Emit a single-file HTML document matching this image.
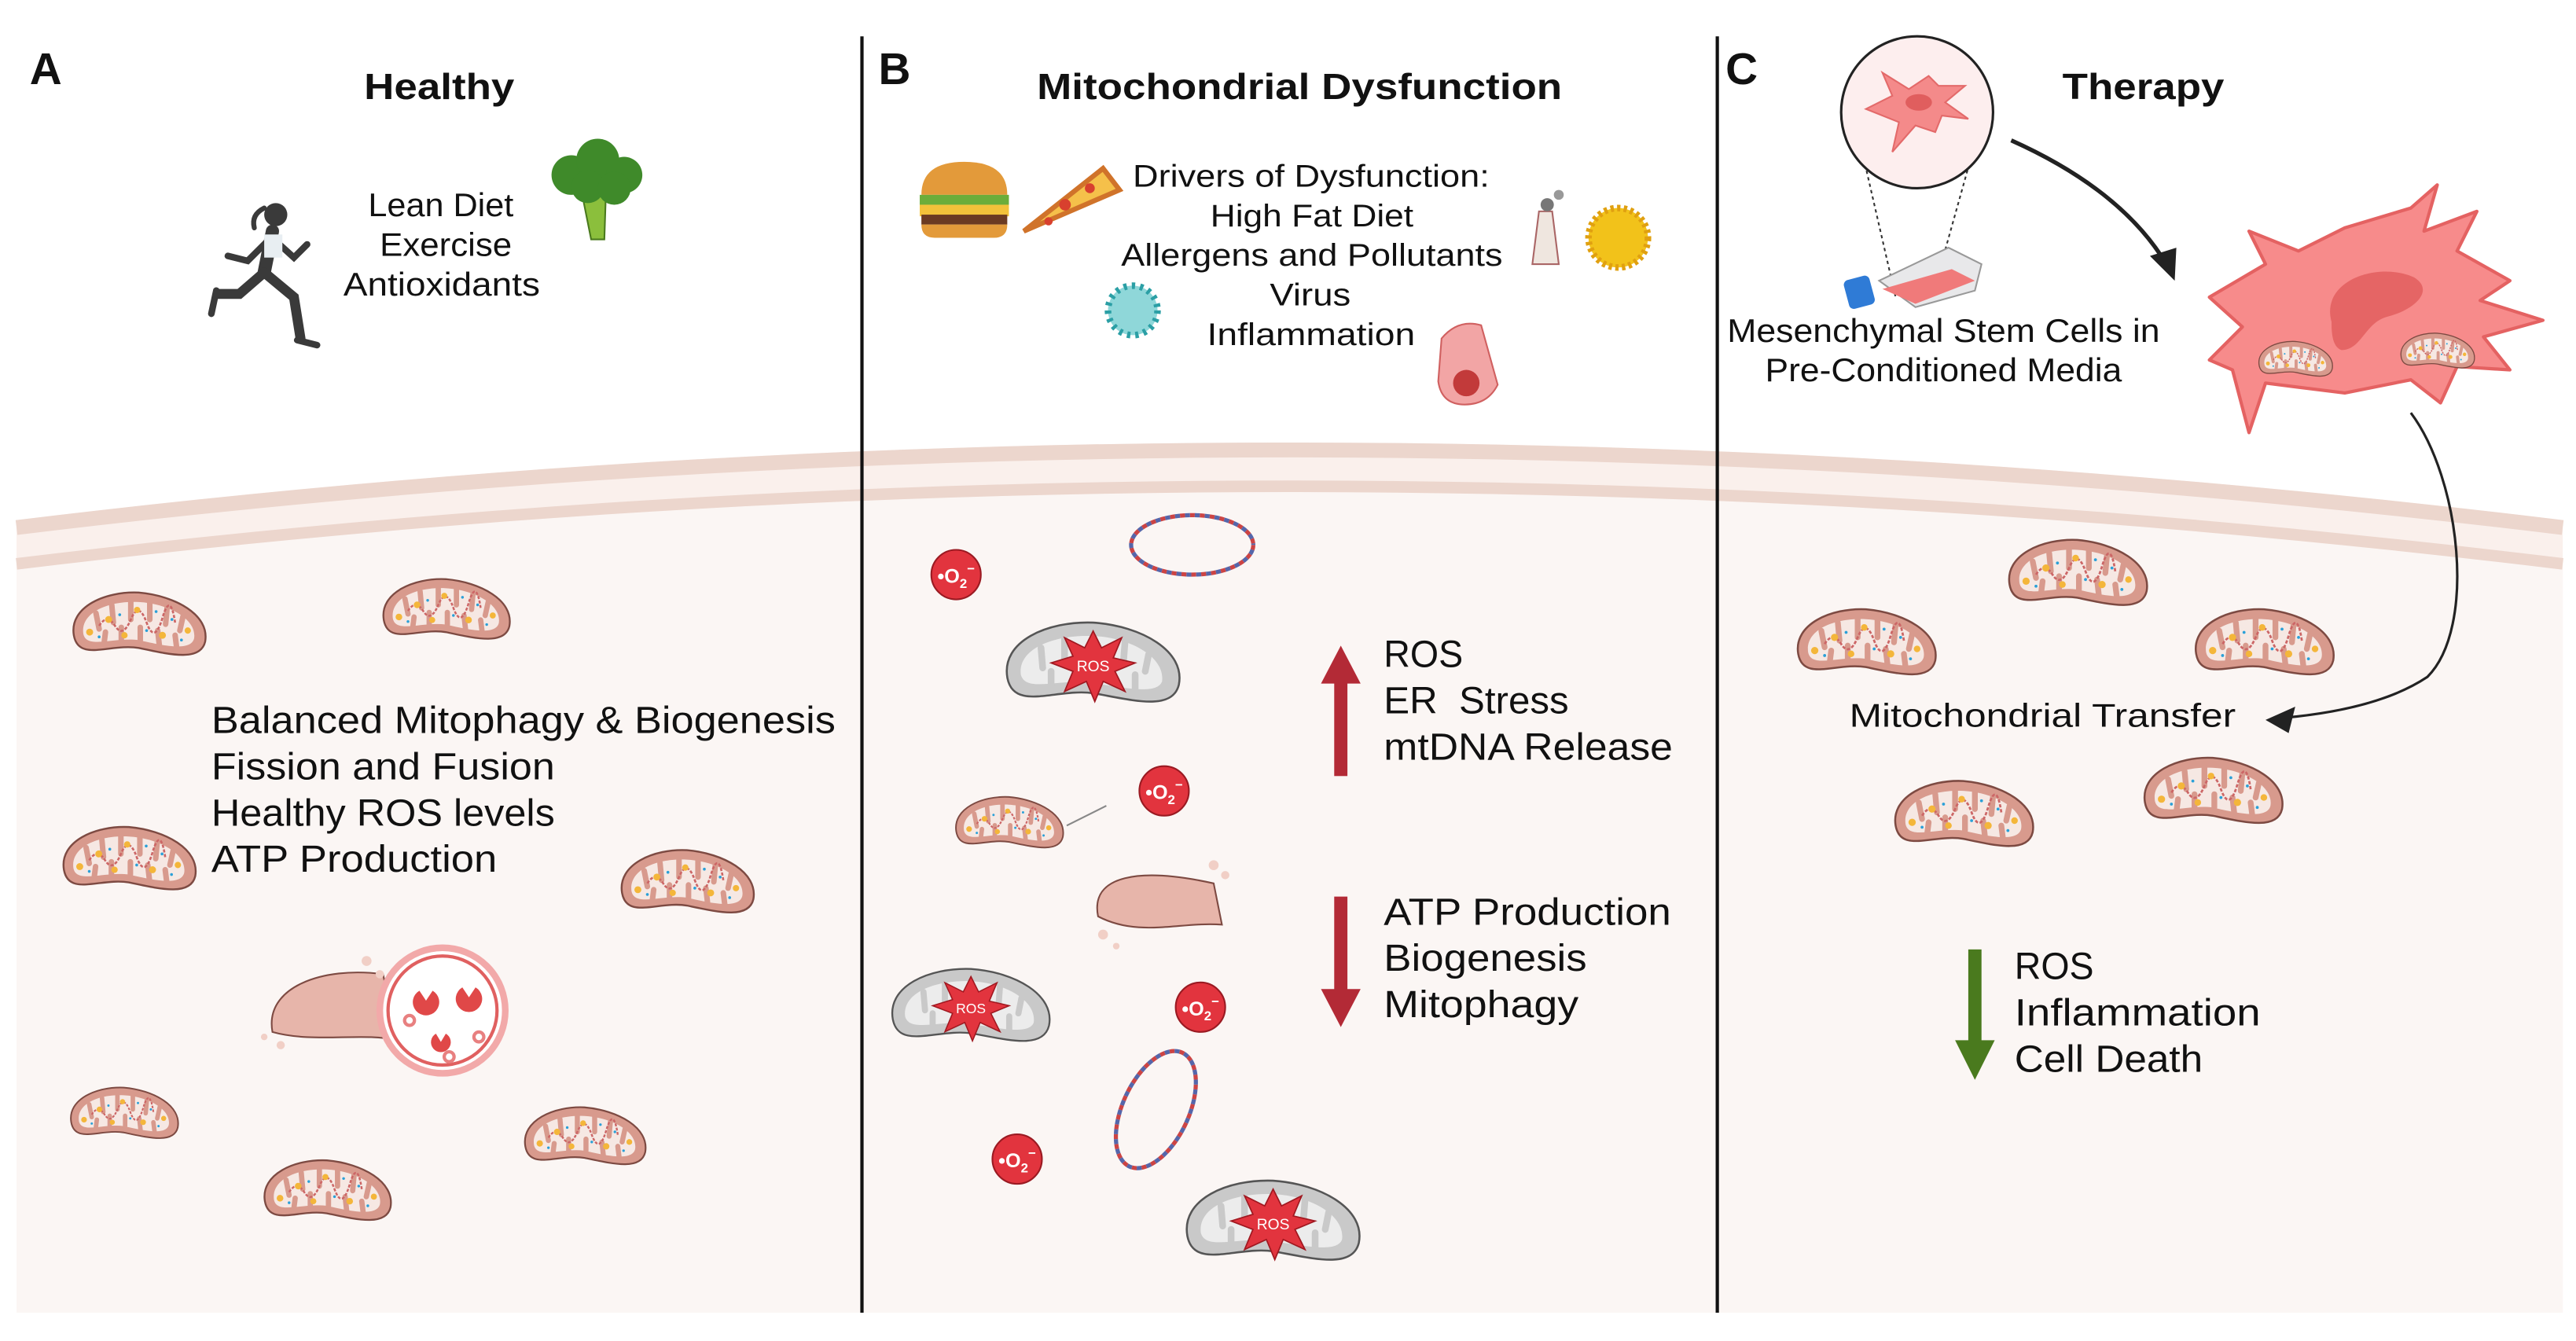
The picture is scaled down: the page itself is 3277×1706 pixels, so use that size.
<!DOCTYPE html>
<html><head><meta charset="utf-8"><style>
html,body{margin:0;padding:0;background:#fff;width:3277px;height:1695px;overflow:hidden}
#w{position:absolute;left:0;top:0;width:1560px;height:807px;transform:scale(2.1006);transform-origin:0 0}
text{font-family:"Liberation Sans",sans-serif;fill:#111}
</style></head><body><div id="w">
<svg width="1560" height="807" viewBox="0 0 1560 807" xmlns="http://www.w3.org/2000/svg">
<defs>
<symbol id="m" viewBox="0 0 90 48">
<path d="M4,30 C1,12 24,2 45,3 C68,5 90,17 87,34 C84,47 64,42 45,38 C27,35 7,47 4,30Z" fill="#d89a8d" stroke="#7d4a42" stroke-width="1.2"/>
<path d="M10,29 C8,15 27,8 45,9 C64,10 82,20 80,32 C78,40 62,37 45,33 C29,31 12,39 10,29Z" fill="#f6e8e3"/>
<g stroke="#d89a8d" stroke-width="3.5" stroke-linecap="round">
<line x1="18" y1="16" x2="20" y2="26"/><line x1="28" y1="11" x2="29" y2="22"/><line x1="40" y1="9" x2="40" y2="20"/><line x1="52" y1="9" x2="52" y2="20"/><line x1="63" y1="12" x2="62" y2="23"/><line x1="73" y1="18" x2="71" y2="27"/>
<line x1="23" y1="36" x2="24" y2="28"/><line x1="34" y1="33" x2="34" y2="25"/><line x1="46" y1="33" x2="46" y2="25"/><line x1="58" y1="36" x2="57" y2="27"/><line x1="69" y1="38" x2="68" y2="30"/>
</g>
<path d="M20,24 q5,-8 10,0 t10,-4 t10,2 t10,-3 t8,3" fill="none" stroke="#c66" stroke-width="1.3" stroke-dasharray="2 1"/>
<g fill="#f4b63a"><circle cx="14" cy="28" r="2.2"/><circle cx="26" cy="20" r="2.2"/><circle cx="44" cy="14" r="2"/><circle cx="60" cy="30" r="2.2"/><circle cx="76" cy="27" r="2"/><circle cx="36" cy="30" r="2"/></g>
<g fill="#2aa0d8"><circle cx="20" cy="31" r="0.9"/><circle cx="33" cy="17" r="0.9"/><circle cx="50" cy="27" r="0.9"/><circle cx="66" cy="20" r="0.9"/><circle cx="72" cy="33" r="0.9"/><circle cx="56" cy="15" r="0.9"/></g>
</symbol>
<symbol id="g" viewBox="0 0 110 56">
<path d="M4,36 C0,14 28,2 55,3 C84,5 110,20 106,40 C102,56 78,49 55,45 C33,42 8,56 4,36Z" fill="#c9c9c9" stroke="#555" stroke-width="1.2"/>
<path d="M12,34 C10,18 33,10 55,11 C78,12 98,24 96,38 C93,46 75,42 55,39 C35,36 15,45 12,34Z" fill="#ececec"/>
<g stroke="#c9c9c9" stroke-width="4" stroke-linecap="round">
<line x1="24" y1="18" x2="25" y2="30"/><line x1="38" y1="13" x2="38" y2="26"/><line x1="74" y1="14" x2="73" y2="27"/><line x1="88" y1="22" x2="86" y2="32"/>
<line x1="30" y1="41" x2="30" y2="32"/><line x1="80" y1="43" x2="80" y2="34"/>
</g>
<polygon points="55,8 60,18 72,12 67,24 80,27 68,32 74,44 61,38 56,50 51,38 38,44 43,32 30,27 43,23 38,12 50,18" fill="#e2343e" stroke="#a01820" stroke-width="0.8"/>
<text x="55" y="32" text-anchor="middle" font-size="9" style="fill:#fff">ROS</text>
</symbol>
</defs>

<!-- cell -->
<path d="M10,315 Q781,221 1552,315 L1552,795 L10,795Z" fill="#faf0ec"/>
<path d="M10,345 Q781,251 1552,345 L1552,795 L10,795Z" fill="#fbf6f4"/>
<path d="M10,319.5 Q781,225.5 1552,319.5" fill="none" stroke="#ecd6cd" stroke-width="9"/>
<path d="M10,341.5 Q781,247.5 1552,341.5" fill="none" stroke="#ecd6cd" stroke-width="7"/>

<!-- dividers -->
<line x1="522" y1="22" x2="522" y2="795" stroke="#111" stroke-width="2"/>
<line x1="1040" y1="22" x2="1040" y2="795" stroke="#111" stroke-width="2"/>

<g font-weight="bold">
<text x="18" y="51" font-size="27">A</text>
<text x="532" y="51" font-size="27">B</text>
<text x="1045" y="51" font-size="27">C</text>
<text x="266" y="60" font-size="22" text-anchor="middle" textLength="91" lengthAdjust="spacingAndGlyphs">Healthy</text>
<text x="787" y="60" font-size="22" text-anchor="middle" textLength="318" lengthAdjust="spacingAndGlyphs">Mitochondrial Dysfunction</text>
<text x="1298" y="60" font-size="22" text-anchor="middle" textLength="98" lengthAdjust="spacingAndGlyphs">Therapy</text>
</g>

<!-- Panel A top -->
<g font-size="20">
<text x="223" y="131" textLength="88" lengthAdjust="spacingAndGlyphs">Lean Diet</text>
<text x="230" y="155" textLength="80" lengthAdjust="spacingAndGlyphs">Exercise</text>
<text x="208" y="179" textLength="119" lengthAdjust="spacingAndGlyphs">Antioxidants</text>
</g>
<!-- runner -->
<g fill="#3a3a3a" stroke="#3a3a3a" stroke-linecap="round">
<circle cx="167" cy="130" r="7" stroke="none"/>
<path d="M160,126 q-8,4 -6,12" fill="none" stroke-width="3"/>
<path d="M165,140 L160,165" stroke-width="8"/>
<path d="M162,146 L150,158 L138,155" fill="none" stroke-width="4"/>
<path d="M167,146 L178,156 L186,148" fill="none" stroke-width="4"/>
<path d="M160,165 L178,180 L182,205" fill="none" stroke-width="6"/>
<path d="M160,165 L145,178 L132,178" fill="none" stroke-width="6"/>
<path d="M180,206 L192,209" stroke-width="4"/>
<path d="M131,176 L128,190" stroke-width="4"/>
</g>
<rect x="160" y="142" width="11" height="14" fill="#e8eef2"/>
<!-- broccoli -->
<path d="M352,115 L358,145 L366,145 L367,115Z" fill="#8bbf3c" stroke="#4a7a1e"/>
<g fill="#3f8a2a"><circle cx="346" cy="106" r="12"/><circle cx="362" cy="97" r="13"/><circle cx="378" cy="106" r="11"/><circle cx="356" cy="113" r="10"/><circle cx="372" cy="114" r="10"/></g>

<!-- Panel A interior -->
<use href="#m" x="40" y="356" width="88" height="46"/>
<use href="#m" x="228" y="348" width="84" height="44"/>
<use href="#m" x="34" y="498" width="88" height="46"/>
<use href="#m" x="372" y="512" width="88" height="46"/>
<use href="#m" x="40" y="656" width="70" height="38"/>
<use href="#m" x="313" y="668" width="82" height="42"/>
<use href="#m" x="155" y="700" width="86" height="44"/>
<g font-size="23">
<text x="128" y="444" textLength="378" lengthAdjust="spacingAndGlyphs">Balanced Mitophagy &amp; Biogenesis</text>
<text x="128" y="472" textLength="208" lengthAdjust="spacingAndGlyphs">Fission and Fusion</text>
<text x="128" y="500" textLength="208" lengthAdjust="spacingAndGlyphs">Healthy ROS levels</text>
<text x="128" y="528" textLength="173" lengthAdjust="spacingAndGlyphs">ATP Production</text>
</g>
<!-- mitophagy -->
<path d="M165,625 C160,598 195,585 232,590 L240,630 C220,625 190,632 165,625Z" fill="#e7b5aa" stroke="#7d4a42"/>
<g fill="#f1cfc6"><circle cx="222" cy="582" r="3"/><circle cx="230" cy="590" r="2.5"/><circle cx="170" cy="633" r="2.5"/><circle cx="160" cy="628" r="2"/></g>
<circle cx="268" cy="612" r="38" fill="#fff" stroke="#f2a9a9" stroke-width="4"/>
<circle cx="268" cy="612" r="33" fill="#fff" stroke="#e06060" stroke-width="2"/>
<g fill="#e04848"><path d="M254,600 a8,8 0 1 0 8,0 l-4,6z"/><path d="M280,598 a8,8 0 1 0 8,0 l-4,6z"/><path d="M264,626 a6,6 0 1 0 6,0 l-3,5z"/></g>
<g fill="none" stroke="#e88080" stroke-width="2"><circle cx="248" cy="618" r="3"/><circle cx="290" cy="628" r="3"/><circle cx="272" cy="640" r="3"/></g>

<!-- Panel B top -->
<g font-size="19">
<text x="686" y="113" textLength="216" lengthAdjust="spacingAndGlyphs">Drivers of Dysfunction:</text>
<text x="733" y="137" textLength="123" lengthAdjust="spacingAndGlyphs">High Fat Diet</text>
<text x="679" y="161" textLength="231" lengthAdjust="spacingAndGlyphs">Allergens and Pollutants</text>
<text x="769" y="185" textLength="49" lengthAdjust="spacingAndGlyphs">Virus</text>
<text x="731" y="209" textLength="126" lengthAdjust="spacingAndGlyphs">Inflammation</text>
</g>
<!-- burger -->
<path d="M558,118 q0,-20 26,-20 q26,0 26,20z" fill="#e39a3a"/>
<rect x="557" y="118" width="54" height="6" fill="#6cad3a"/>
<rect x="557" y="124" width="54" height="7" fill="#f3c23a"/>
<rect x="558" y="130" width="52" height="6" fill="#6b3a22"/>
<path d="M558,136 h52 q0,8 -8,8 h-36 q-8,0 -8,-8z" fill="#e39a3a"/>
<!-- pizza -->
<path d="M620,140 L668,102 L678,115Z" fill="#f5c04a" stroke="#d0732a" stroke-width="3"/>
<g fill="#d8402e"><circle cx="645" cy="124" r="3.5"/><circle cx="660" cy="114" r="3"/><circle cx="635" cy="134" r="2.5"/></g>
<!-- factory + pollen -->
<path d="M928,160 L932,128 L940,128 L944,160Z" fill="#efe6df" stroke="#a66" stroke-width="1"/>
<circle cx="937" cy="124" r="4" fill="#777"/><circle cx="944" cy="118" r="3" fill="#999"/>
<circle cx="980" cy="144" r="18" fill="#f2c21a" stroke="#e0a010" stroke-width="4" stroke-dasharray="2 2"/>
<!-- virus -->
<circle cx="686" cy="188" r="15" fill="#8fd7d9" stroke="#2b9fa5" stroke-width="4" stroke-dasharray="2 3"/>
<!-- airway -->
<path d="M873,205 q10,-12 24,-8 l10,36 q-6,12 -20,12 q-14,0 -16,-14z" fill="#f2a5a5" stroke="#d06060"/>
<circle cx="888" cy="232" r="8" fill="#c23a3a"/>

<!-- Panel B interior -->
<ellipse cx="722" cy="330" rx="37" ry="18" fill="none" stroke="#c44" stroke-width="2.5" stroke-dasharray="3 3"/>
<ellipse cx="722" cy="330" rx="37" ry="18" fill="none" stroke="#56a" stroke-width="2.5" stroke-dasharray="3 3" stroke-dashoffset="3"/>
<ellipse cx="700" cy="672" rx="20" ry="38" transform="rotate(25 700 672)" fill="none" stroke="#c44" stroke-width="2.5" stroke-dasharray="3 3"/>
<ellipse cx="700" cy="672" rx="20" ry="38" transform="rotate(25 700 672)" fill="none" stroke="#56a" stroke-width="2.5" stroke-dasharray="3 3" stroke-dashoffset="3"/>
<use href="#g" x="606" y="374" width="112" height="57"/>
<use href="#g" x="537" y="584" width="102" height="52"/>
<use href="#g" x="715" y="712" width="112" height="57"/>
<use href="#m" x="576" y="480" width="70" height="38"/>
<line x1="646" y1="500" x2="670" y2="488" stroke="#888"/>
<path d="M665,555 C660,530 690,525 735,535 L740,560 C715,558 690,568 665,555Z" fill="#e7b5aa" stroke="#7d4a42"/>
<g fill="#f1cfc6"><circle cx="735" cy="524" r="3"/><circle cx="742" cy="530" r="2.5"/><circle cx="668" cy="566" r="3"/><circle cx="676" cy="573" r="2"/></g>
<g font-size="12" font-weight="bold">
<circle cx="579" cy="348" r="15" fill="#e2343e" stroke="#9a1a22"/><text x="579" y="353" text-anchor="middle" style="fill:#fff">•O<tspan font-size="8" dy="3">2</tspan><tspan font-size="8" dy="-9">−</tspan></text>
<circle cx="705" cy="479" r="15" fill="#e2343e" stroke="#9a1a22"/><text x="705" y="484" text-anchor="middle" style="fill:#fff">•O<tspan font-size="8" dy="3">2</tspan><tspan font-size="8" dy="-9">−</tspan></text>
<circle cx="727" cy="610" r="15" fill="#e2343e" stroke="#9a1a22"/><text x="727" y="615" text-anchor="middle" style="fill:#fff">•O<tspan font-size="8" dy="3">2</tspan><tspan font-size="8" dy="-9">−</tspan></text>
<circle cx="616" cy="702" r="15" fill="#e2343e" stroke="#9a1a22"/><text x="616" y="707" text-anchor="middle" style="fill:#fff">•O<tspan font-size="8" dy="3">2</tspan><tspan font-size="8" dy="-9">−</tspan></text>
</g>
<rect x="808" y="412" width="8" height="58" fill="#b32a36"/>
<polygon points="800,414 812,391 824,414" fill="#b32a36"/>
<rect x="808" y="543" width="8" height="58" fill="#b32a36"/>
<polygon points="800,599 812,622 824,599" fill="#b32a36"/>
<g font-size="23">
<text x="838" y="404" textLength="48" lengthAdjust="spacingAndGlyphs">ROS</text>
<text x="838" y="432" textLength="112" lengthAdjust="spacingAndGlyphs" xml:space="preserve">ER  Stress</text>
<text x="838" y="460" textLength="175" lengthAdjust="spacingAndGlyphs">mtDNA Release</text>
<text x="838" y="560" textLength="174" lengthAdjust="spacingAndGlyphs">ATP Production</text>
<text x="838" y="588" textLength="123" lengthAdjust="spacingAndGlyphs">Biogenesis</text>
<text x="838" y="616" textLength="118" lengthAdjust="spacingAndGlyphs">Mitophagy</text>
</g>

<!-- Panel C top -->
<line x1="1125" y1="80" x2="1148" y2="180" stroke="#333" stroke-dasharray="2 2"/>
<line x1="1198" y1="80" x2="1170" y2="180" stroke="#333" stroke-dasharray="2 2"/>
<circle cx="1161" cy="68" r="46" fill="#fdeeee" stroke="#222" stroke-width="1.5"/>
<path d="M1130,66 L1146,58 L1140,44 L1156,54 L1168,46 L1174,52 L1190,52 L1178,62 L1192,72 L1176,70 L1172,80 L1160,76 L1146,92 L1150,74Z" fill="#f48a8a" stroke="#e36a6a"/>
<ellipse cx="1162" cy="62" rx="8" ry="5" fill="#e05e5e"/>
<path d="M1138,170 L1180,150 L1200,160 L1196,176 L1160,186Z" fill="#e8e8ea" stroke="#999"/>
<path d="M1140,175 L1182,163 L1196,170 L1160,184Z" fill="#f07a7a"/>
<rect x="1118" y="168" width="16" height="18" rx="3" fill="#2f7bd6" transform="rotate(-15 1126 177)"/>
<g font-size="20">
<text x="1046" y="207" textLength="262" lengthAdjust="spacingAndGlyphs">Mesenchymal Stem Cells in</text>
<text x="1069" y="231" textLength="216" lengthAdjust="spacingAndGlyphs">Pre-Conditioned Media</text>
</g>
<path d="M1218,85 Q1285,115 1312,160" fill="none" stroke="#222" stroke-width="2.5"/>
<polygon points="1302,155 1317,170 1318,150" fill="#222"/>
<!-- big cell -->
<path d="M1338,180 L1372,160 L1362,140 L1392,152 L1420,138 L1460,126 L1476,112 L1468,140 L1500,128 L1488,152 L1520,170 L1502,182 L1540,194 L1504,204 L1520,224 L1488,222 L1478,244 L1460,230 L1420,238 L1372,232 L1362,262 L1352,224 L1338,218 L1358,198Z" fill="#f78b8b" stroke="#e46262" stroke-width="2" stroke-linejoin="round"/>
<path d="M1412,195 C1405,170 1440,158 1462,168 C1475,176 1462,188 1445,192 C1432,196 1430,212 1418,212 C1412,210 1412,200 1412,195Z" fill="#e56565"/>
<use href="#m" x="1366" y="205" width="48" height="26"/>
<use href="#m" x="1452" y="200" width="48" height="26"/>
<path d="M1460,250 C1490,290 1500,380 1470,410 Q1440,430 1380,435" fill="none" stroke="#222" stroke-width="1.5"/>
<polygon points="1372,436 1390,428 1386,444" fill="#222"/>
<!-- Panel C interior -->
<use href="#m" x="1212" y="324" width="92" height="48"/>
<use href="#m" x="1084" y="366" width="92" height="48"/>
<use href="#m" x="1325" y="366" width="92" height="48"/>
<use href="#m" x="1143" y="470" width="92" height="48"/>
<use href="#m" x="1294" y="456" width="92" height="48"/>
<text x="1120" y="440" font-size="20" textLength="234" lengthAdjust="spacingAndGlyphs">Mitochondrial Transfer</text>
<rect x="1192" y="575" width="8" height="58" fill="#4a7a1e"/>
<polygon points="1184,630 1196,654 1208,630" fill="#4a7a1e"/>
<g font-size="23">
<text x="1220" y="593" textLength="48" lengthAdjust="spacingAndGlyphs">ROS</text>
<text x="1220" y="621" textLength="149" lengthAdjust="spacingAndGlyphs">Inflammation</text>
<text x="1220" y="649" textLength="114" lengthAdjust="spacingAndGlyphs">Cell Death</text>
</g>
</svg>
</div></body></html>
